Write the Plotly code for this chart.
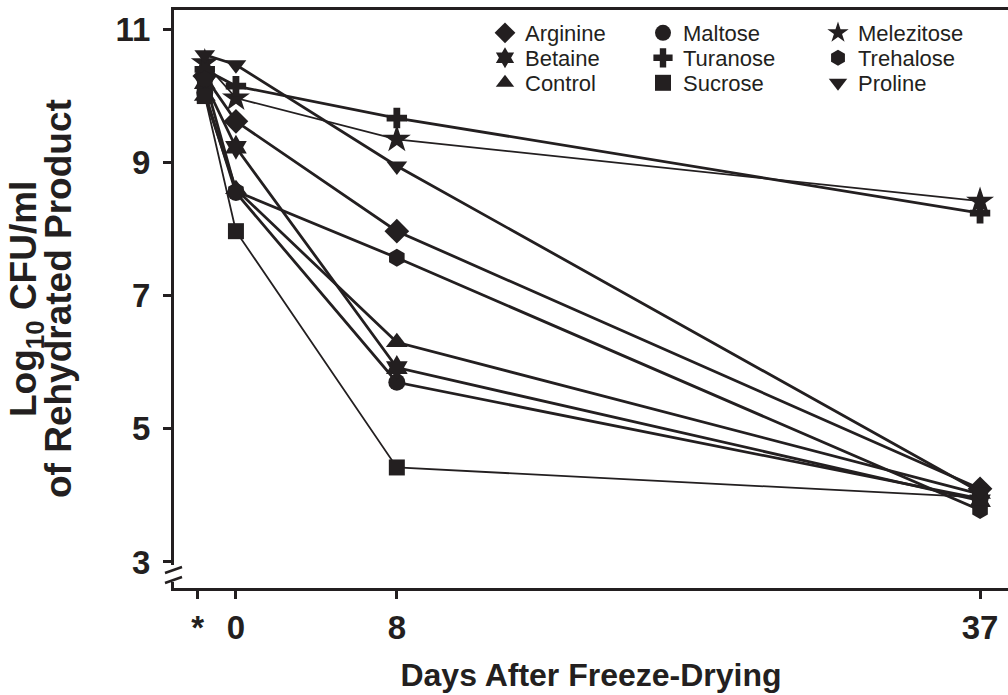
import plotly.graph_objects as go

# ---------------- data ----------------
days = [-1.55, 0, 8, 37]              # '*' column sits just left of day 0
tick_pos = [-1.9, 0, 8, 37]
tick_text = ["*", "0", "8", "37"]
y_ticks = [3, 5, 7, 9, 11]

arginine   = [10.30, 9.62, 7.97, 4.10]
maltose    = [10.05, 8.55, 5.70, 3.95]
melezitose = [10.50, 9.97, 9.35, 8.42]
betaine    = [10.20, 9.23, 5.92, 3.92]
turanose   = [10.40, 10.15, 9.67, 8.24]
trehalose  = [10.25, 8.57, 7.57, 3.78]
control    = [10.00, 8.60, 6.30, 4.02]
sucrose    = [10.00, 7.97, 4.42, 3.97]
proline    = [10.62, 10.47, 8.95, 4.05]

series_names = ["Arginine", "Maltose", "Melezitose",
                "Betaine", "Turanose", "Trehalose",
                "Control", "Sucrose", "Proline"]
series_vals = [arginine, maltose, melezitose,
               betaine, turanose, trehalose,
               control, sucrose, proline]

# ---------------- styles ----------------
INK = "#231f20"
symbols = {"Arginine": "diamond", "Maltose": "circle", "Melezitose": "star",
           "Betaine": "hexagram", "Turanose": "cross", "Trehalose": "hexagon",
           "Control": "triangle-up", "Sucrose": "square", "Proline": "triangle-down"}
lw = {"Melezitose": 1.8, "Sucrose": 1.8}
msize = {"Melezitose": 21, "Betaine": 19, "Turanose": 17, "Proline": 18,
         "Control": 19, "Sucrose": 16, "Arginine": 19, "Maltose": 17, "Trehalose": 18}

FONT = "Liberation Sans, Arial, sans-serif"

fig = go.Figure()

for name, vals in zip(series_names, series_vals):
    fig.add_trace(go.Scatter(
        x=days, y=vals, mode="lines+markers", name=name, showlegend=False,
        line=dict(color=INK, width=lw.get(name, 2.8)),
        marker=dict(symbol=symbols[name], size=msize[name], color=INK,
                    line=dict(width=0)),
        cliponaxis=False,
    ))

# plot area in px: left 174, right 1008, top 10, bottom 588
L, R, T, B = 174, 1008, 10, 588
col_left_px = [485, 643, 818]
row_mid_px = [33, 58, 83]
legend_layouts = {}
for i, name in enumerate(series_names):
    r, c = divmod(i, 3)
    key = "legend" if i == 0 else f"legend{i+1}"
    fig.add_trace(go.Scatter(
        x=[None], y=[None], mode="markers", name=name, showlegend=True,
        legend=key,
        marker=dict(symbol=symbols[name], size=16, color=INK, line=dict(width=0)),
    ))
    legend_layouts[key] = dict(
        x=(col_left_px[c] - L) / (R - L), xanchor="left",
        y=(B - row_mid_px[r]) / (B - T), yanchor="middle",
        font=dict(family=FONT, size=22, color=INK),
        bgcolor="rgba(0,0,0,0)", borderwidth=0, itemwidth=30,
        tracegroupgap=0,
    )

fig.update_layout(**legend_layouts)

fig.update_layout(
    width=1008, height=695,
    margin=dict(l=L, r=1008 - R, t=T, b=695 - B),
    paper_bgcolor="white", plot_bgcolor="white",
    font=dict(family=FONT, color=INK),
    xaxis=dict(
        range=[-3.08, 38.39], showgrid=False, zeroline=False,
        showline=True, linewidth=3, linecolor=INK, mirror=True,
        tickmode="array", tickvals=tick_pos, ticktext=tick_text,
        ticks="outside", ticklen=8, tickwidth=3, tickcolor=INK,
        tickfont=dict(family=FONT, size=33, color=INK, weight="bold"),
        title=dict(text="Days After Freeze-Drying", standoff=20,
                   font=dict(family=FONT, size=32, color=INK, weight="bold")),
    ),
    yaxis=dict(
        range=[2.609, 11.293], showgrid=False, zeroline=False,
        showline=True, linewidth=3, linecolor=INK,
        tickmode="array", tickvals=y_ticks,
        ticks="outside", ticklen=8, tickwidth=3, tickcolor=INK,
        ticklabelstandoff=6,
        tickfont=dict(family=FONT, size=33, color=INK, weight="bold"),
    ),
    annotations=[
        dict(text="Log<sub>10</sub> CFU/ml", textangle=-90, xref="paper", yref="paper",
             x=(26 - L) / (R - L), y=0.5, xanchor="center", yanchor="middle",
             showarrow=False, font=dict(family=FONT, size=37, color=INK, weight="bold")),
        dict(text="of Rehydrated Product", textangle=-90, xref="paper", yref="paper",
             x=(58 - L) / (R - L), y=0.5, xanchor="center", yanchor="middle",
             showarrow=False, font=dict(family=FONT, size=37, color=INK, weight="bold")),
    ],
    shapes=[
        dict(type="rect", xref="paper", yref="paper",
             x0=-6 / (R - L), x1=6 / (R - L),
             y0=(B - 582) / (B - T), y1=(B - 565) / (B - T),
             fillcolor="white", line=dict(width=0), layer="above"),
        dict(type="line", xref="paper", yref="paper",
             x0=-9 / (R - L), x1=8 / (R - L),
             y0=(B - 573) / (B - T), y1=(B - 567) / (B - T),
             line=dict(color=INK, width=2.5), layer="above"),
        dict(type="line", xref="paper", yref="paper",
             x0=-9 / (R - L), x1=8 / (R - L),
             y0=(B - 583) / (B - T), y1=(B - 577) / (B - T),
             line=dict(color=INK, width=2.5), layer="above"),
    ],
)

fig.write_html("out.html", config={"displayModeBar": False},
               post_script="document.body.style.margin='0px';document.body.style.overflow='hidden';")
